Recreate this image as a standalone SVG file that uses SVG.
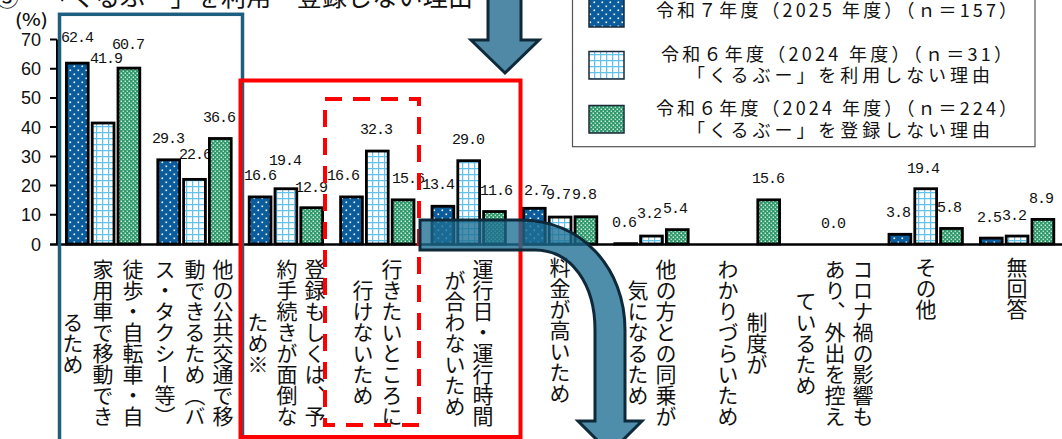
<svg xmlns="http://www.w3.org/2000/svg" width="1062" height="439" viewBox="0 0 1062 439">
<defs>
<pattern id="p1" patternUnits="userSpaceOnUse" width="8" height="8"><rect width="8" height="8" fill="#0B5C9C"/><rect x="1.5" y="1.5" width="1.6" height="1.6" fill="#fff"/><rect x="5.5" y="5.5" width="1.6" height="1.6" fill="#fff"/></pattern>
<pattern id="p2" patternUnits="userSpaceOnUse" width="6" height="6"><rect width="6" height="6" fill="#fff"/><path d="M0,0.6H6M0.6,0V6" stroke="#62C2EA" stroke-width="1.3"/></pattern>
<pattern id="p3" patternUnits="userSpaceOnUse" width="4" height="4"><rect width="4" height="4" fill="#2E9A6B"/><rect x="0.6" y="0.6" width="1.3" height="1.3" fill="#fff"/><rect x="2.6" y="2.6" width="1.3" height="1.3" fill="#d8f0e4"/></pattern>
<style>
.v{font-family:"Liberation Mono","DejaVu Sans Mono",monospace;font-size:15px;letter-spacing:-1px;fill:#111}
.cat{font-family:"Noto Sans CJK JP","Noto Sans CJK SC",sans-serif;font-size:21px;writing-mode:vertical-rl;fill:#111}
.lg{font-family:"Noto Sans CJK JP","Noto Sans CJK SC",sans-serif;font-size:18px;fill:#111}
.ax{font-family:"Liberation Sans",Arial,sans-serif;font-size:18px;fill:#111}
.b1{fill:url(#p1);stroke:#000;stroke-width:2.8}
.b2{fill:url(#p2);stroke:#000;stroke-width:2.8}
.b3{fill:url(#p3);stroke:#000;stroke-width:2.8}
.sw{stroke:#1b2a38;stroke-width:1.5}
.arrow{fill:#4F89A6;stroke:#0E2A3A;stroke-width:3;stroke-linejoin:miter}
</style>
</defs>
<rect width="1062" height="439" fill="#fff"/>

<g id="title">
<text x="-5" y="6" font-family="Noto Sans CJK JP,sans-serif" font-size="24" fill="#111">③</text>
<text x="45" y="6" font-family="Noto Sans CJK JP,sans-serif" font-size="25" fill="#111" textLength="428" lengthAdjust="spacing">「くるぶー」を利用・登録しない理由</text>
</g>

<g id="y-axis">
<text x="15" y="26" font-family="Noto Sans CJK JP,sans-serif" font-size="17" font-weight="500" fill="#111" textLength="33" lengthAdjust="spacingAndGlyphs">(%)</text>
<path d="M57,39.5V244M50,39.5H57M50,68.7H57M50,97.9H57M50,127.1H57M50,156.4H57M50,185.6H57M50,214.8H57" stroke="#000" stroke-width="2" fill="none"/>
<g class="ax" text-anchor="end">
<text x="41" y="46">70</text><text x="41" y="75.2">60</text><text x="41" y="104.4">50</text><text x="41" y="133.6">40</text><text x="41" y="162.9">30</text><text x="41" y="192.1">20</text><text x="41" y="221.3">10</text><text x="41" y="250.5">0</text>
</g>
</g>

<g id="series-2025">
<rect class="b1" x="66.4" y="63.13" width="21.8" height="180.87"/>
<rect class="b1" x="157.8" y="159.81" width="21.8" height="84.19"/>
<rect class="b1" x="249.2" y="196.91" width="21.8" height="47.09"/>
<rect class="b1" x="340.6" y="196.91" width="21.8" height="47.09"/>
<rect class="b1" x="432" y="206.26" width="21.8" height="37.74"/>
<rect class="b1" x="523.4" y="208.3" width="21.8" height="35.7"/>
<rect class="b1" x="614.8" y="243.65" width="21.8" height="0.35"/>
<rect class="b1" x="889" y="234.3" width="21.8" height="9.7"/>
<rect class="b1" x="980.4" y="238.1" width="21.8" height="5.9"/>
<g class="v">
<text x="61" y="41.5">62.4</text>
<text x="152" y="143">29.3</text>
<text x="244" y="180">16.6</text>
<text x="327" y="180">16.6</text>
<text x="422" y="189">13.4</text>
<text x="524" y="194.5">2.7</text>
<text x="612" y="227">0.6</text>
<text x="886" y="217">3.8</text>
<text x="977" y="222">2.5</text>
</g>
</g>

<g id="series-2024-use">
<rect class="b2" x="92.2" y="123.01" width="21.8" height="120.99"/>
<rect class="b2" x="183.6" y="179.39" width="21.8" height="64.61"/>
<rect class="b2" x="275" y="188.73" width="21.8" height="55.27"/>
<rect class="b2" x="366.4" y="151.05" width="21.8" height="92.95"/>
<rect class="b2" x="457.8" y="160.69" width="21.8" height="83.31"/>
<rect class="b2" x="549.2" y="217.07" width="21.8" height="26.93"/>
<rect class="b2" x="640.6" y="236.05" width="21.8" height="7.95"/>
<rect class="b2" x="914.8" y="188.73" width="21.8" height="55.27"/>
<rect class="b2" x="1006.2" y="236.05" width="21.8" height="7.95"/>
<g class="v">
<text x="90" y="63">41.9</text>
<text x="179" y="159">22.6</text>
<text x="269" y="165">19.4</text>
<text x="360" y="134">32.3</text>
<text x="452" y="144">29.0</text>
<text x="546" y="199">9.7</text>
<text x="637" y="218">3.2</text>
<text x="821" y="228">0.0</text>
<text x="907" y="173">19.4</text>
<text x="1002" y="220">3.2</text>
</g>
</g>

<g id="series-2024-register">
<rect class="b3" x="118" y="68.1" width="21.8" height="175.9"/>
<rect class="b3" x="209.4" y="138.49" width="21.8" height="105.51"/>
<rect class="b3" x="300.8" y="207.72" width="21.8" height="36.28"/>
<rect class="b3" x="392.2" y="199.83" width="21.8" height="44.17"/>
<rect class="b3" x="483.6" y="211.52" width="21.8" height="32.48"/>
<rect class="b3" x="575" y="216.77" width="21.8" height="27.23"/>
<rect class="b3" x="666.4" y="229.63" width="21.8" height="14.37"/>
<rect class="b3" x="757.8" y="199.83" width="21.8" height="44.17"/>
<rect class="b3" x="940.6" y="228.46" width="21.8" height="15.54"/>
<rect class="b3" x="1032" y="219.4" width="21.8" height="24.6"/>
<g class="v">
<text x="112" y="49">60.7</text>
<text x="203" y="122">36.6</text>
<text x="295" y="192">12.9</text>
<text x="392" y="183">15.6</text>
<text x="480" y="195">11.6</text>
<text x="572" y="199">9.8</text>
<text x="663" y="213">5.4</text>
<text x="752" y="183">15.6</text>
<text x="937" y="212">5.8</text>
<text x="1029" y="203">8.9</text>
</g>
</g>

<path id="x-axis" d="M50,244.5H1062" stroke="#000" stroke-width="2.5"/>

<g id="categories" class="cat">
<text x="133" y="343" text-anchor="middle">徒歩・自転車・自</text>
<text x="103" y="343" text-anchor="middle">家用車で移動でき</text>
<text x="73" y="343" text-anchor="middle">るため</text>
<text x="223" y="343" text-anchor="middle">他の公共交通で移</text>
<text x="195" y="343" text-anchor="middle">動できるため（バ</text>
<text x="165" y="343" text-anchor="middle">ス・タクシー等）</text>
<text x="315" y="343" text-anchor="middle">登録もしくは、予</text>
<text x="287" y="343" text-anchor="middle">約手続きが面倒な</text>
<text x="258" y="343" text-anchor="middle">ため※</text>
<text x="392" y="343" text-anchor="middle">行きたいところに</text>
<text x="363" y="343" text-anchor="middle">行けないため</text>
<text x="483" y="343" text-anchor="middle">運行日・運行時間</text>
<text x="455" y="343" text-anchor="middle">が合わないため</text>
<text x="560" y="257">料金が高いため</text>
<text x="666" y="343" text-anchor="middle">他の方との同乗が</text>
<text x="638" y="343" text-anchor="middle">気になるため</text>
<text x="757" y="343" text-anchor="middle">制度が</text>
<text x="728" y="343" text-anchor="middle">わかりづらいため</text>
<text x="863" y="343" text-anchor="middle">コロナ禍の影響も</text>
<text x="835" y="343" text-anchor="middle">あり、外出を控え</text>
<text x="806" y="343" text-anchor="middle">ているため</text>
<text x="926" y="257">その他</text>
<text x="1017" y="257">無回答</text>
</g>

<g id="legend">
<rect x="572.5" y="-5" width="462.5" height="151.7" fill="#fff" stroke="#555" stroke-width="1.2"/>
<rect class="sw" x="589" y="-2" width="35" height="29" fill="url(#p1)"/>
<rect class="sw" x="589" y="51.5" width="35" height="27.5" fill="url(#p2)"/>
<rect class="sw" x="589" y="105.5" width="35" height="27.5" fill="url(#p3)"/>
<text class="lg" x="656" y="17" textLength="361" lengthAdjust="spacing">令和７年度（2025 年度）（ｎ＝157）</text>
<text class="lg" x="661" y="61" textLength="351" lengthAdjust="spacing">令和６年度（2024 年度）（ｎ＝31）</text>
<text class="lg" x="687" y="82" textLength="303" lengthAdjust="spacing">「くるぶー」を利用しない理由</text>
<text class="lg" x="656" y="115" textLength="361" lengthAdjust="spacing">令和６年度（2024 年度）（ｎ＝224）</text>
<text class="lg" x="687" y="137" textLength="303" lengthAdjust="spacing">「くるぶー」を登録しない理由</text>
</g>

<g id="highlight-boxes" fill="none">
<rect id="box-blue" x="59.5" y="14.3" width="183" height="440" stroke="#1E5E80" stroke-width="3.5"/>
<rect id="box-red" x="240.5" y="80.5" width="280" height="356.5" stroke="#FF0000" stroke-width="4"/>
<path id="box-red-dashed" d="M325,99H419V425H325Z" stroke="#FF0000" stroke-width="4" stroke-dasharray="17 11"/>
</g>

<g id="connectors">
<path class="arrow" d="M488,-5L521,-5L521,40L539,40L505,73L471,40L488,40Z"/>
<path class="arrow" fill-opacity="0.78" d="M420,220L520,220C582,220 625,268 625,330L625,421L642,421L610,453L578,421L595,421L595,330C595,285 572,250 535,250L420,250Z" style="fill:#1E6E94"/>
</g>
</svg>
